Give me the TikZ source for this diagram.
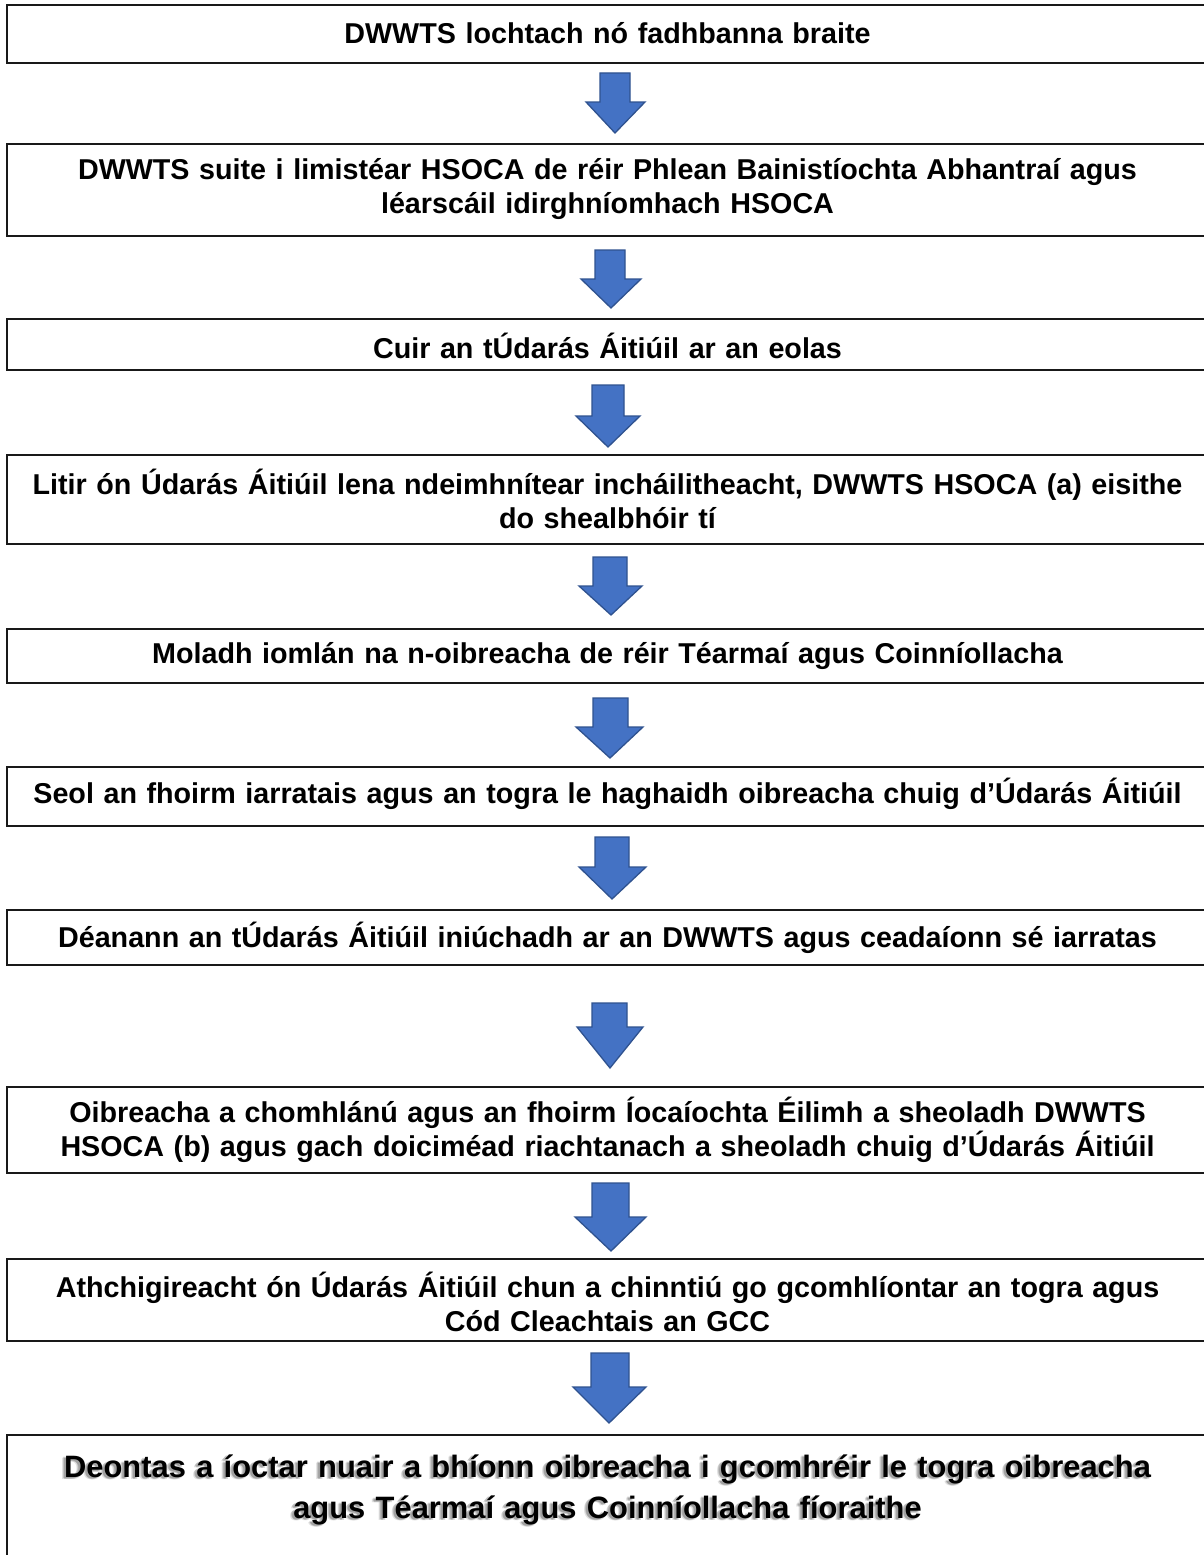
\documentclass[tikz,border=0pt]{standalone}
\usepackage{fontspec}
\setmainfont{Liberation Sans}
\begin{document}
\begin{tikzpicture}[x=1pt,y=-1pt,
  stepbox/.style={draw=black!90, line width=2pt, fill=white},
  boxtext/.style={align=center, text width=1190pt, inner sep=0pt,
    font=\bfseries\fontsize{28.7}{34}\selectfont},
  bigtext/.style={align=center, text width=1190pt, inner sep=0pt,
    font=\bfseries\fontsize{30.9}{41}\selectfont},
  blockarrow/.style={fill=arrowfill, draw=arrowline, line width=1.3pt, line join=miter}]
\definecolor{arrowfill}{HTML}{4472C4}
\definecolor{arrowline}{HTML}{2F528F}
\useasboundingbox (0,0) rectangle (1204,1555);
\clip (0,0) rectangle (1204,1555);
\fill[white] (0,0) rectangle (1204,1555);
% boxes
\draw[stepbox] (7,5) rectangle (1212,63);
\draw[stepbox] (7,144) rectangle (1212,236);
\draw[stepbox] (7,319) rectangle (1212,370);
\draw[stepbox] (7,455) rectangle (1212,544);
\draw[stepbox] (7,629) rectangle (1212,683);
\draw[stepbox] (7,767) rectangle (1212,826);
\draw[stepbox] (7,910) rectangle (1212,965);
\draw[stepbox] (7,1087) rectangle (1212,1173);
\draw[stepbox] (7,1259) rectangle (1212,1341);
\draw[stepbox] (7,1435) rectangle (1212,1600);
% texts
\node[boxtext] (t1) at (607.5,33) {DWWTS lochtach nó fadhbanna braite};
\node[boxtext] (t2) at (607.5,189) {DWWTS suite i limistéar HSOCA de réir Phlean Bainistíochta Abhantraí agus\\ léarscáil idirghníomhach HSOCA};
\node[boxtext] (t3) at (607.5,346) {Cuir an tÚdarás Áitiúil ar an eolas};
\node[boxtext] (t4) at (607.5,499) {Litir ón Údarás Áitiúil lena ndeimhnítear incháilitheacht, DWWTS HSOCA (a) eisithe\\ do shealbhóir tí};
\node[boxtext] (t5) at (607.5,656) {Moladh iomlán na n-oibreacha de réir Téarmaí agus Coinníollacha};
\node[boxtext] (t6) at (607.5,794) {Seol an fhoirm iarratais agus an togra le haghaidh oibreacha chuig d’Údarás Áitiúil};
\node[boxtext] (t7) at (607.5,938) {Déanann an tÚdarás Áitiúil iniúchadh ar an DWWTS agus ceadaíonn sé iarratas};
\node[boxtext] (t8) at (607.5,1130) {Oibreacha a chomhlánú agus an fhoirm Íocaíochta Éilimh a sheoladh DWWTS\\ HSOCA (b) agus gach doiciméad riachtanach a sheoladh chuig d’Údarás Áitiúil};
\node[boxtext] (t9) at (607.5,1302) {Athchigireacht ón Údarás Áitiúil chun a chinntiú go gcomhlíontar an togra agus\\ Cód Cleachtais an GCC};
% last box text with soft shadow
\foreach \dx/\dy/\op in {-4/2/0.12,-3/1/0.15,-2/2/0.15}{
  \node[bigtext, text=black, opacity=\op] at (607.5+\dx,1490+\dy) {Deontas a íoctar nuair a bhíonn oibreacha i gcomhréir le togra oibreacha\\ agus Téarmaí agus Coinníollacha fíoraithe};
}
\node[bigtext] (t10) at (607.5,1490) {Deontas a íoctar nuair a bhíonn oibreacha i gcomhréir le togra oibreacha\\ agus Téarmaí agus Coinníollacha fíoraithe};
% block arrows: shaft left/right, head left/right, top, neck, tip, tip x
\newcommand\downblock[8]{\draw[blockarrow] (#1,#5) -- (#2,#5) -- (#2,#6) -- (#4,#6) -- (#8,#7) -- (#3,#6) -- (#1,#6) -- cycle;}
\downblock{600}{630}{586}{645}{73}{102}{133}{615}
\downblock{595}{625}{581}{641}{250}{279}{308}{611}
\downblock{592}{624}{576}{640}{385}{416}{447}{608}
\downblock{593}{627}{579}{642}{557}{586}{615}{611}
\downblock{593}{628}{576}{643}{698}{727}{758}{610}
\downblock{595}{629}{579}{646}{837}{867}{899}{612}
\downblock{592}{627}{577}{643}{1003}{1027}{1068}{610}
\downblock{592}{629}{575}{646}{1183}{1217}{1251}{611}
\downblock{591}{629}{573}{646}{1353}{1387}{1423}{609}
\end{tikzpicture}
\end{document}
